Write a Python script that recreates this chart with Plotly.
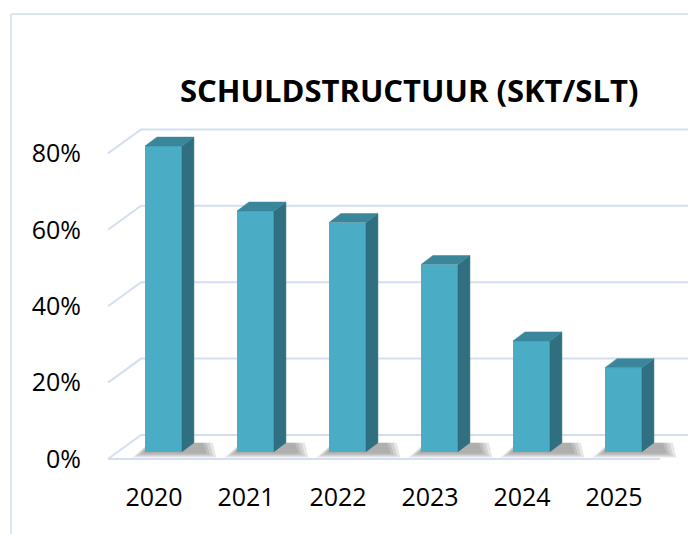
import plotly.graph_objects as go

# ---- data ----
years = ["2020", "2021", "2022", "2023", "2024", "2025"]
values = [80, 63, 60, 49, 29, 22]
tick_vals = [0, 20, 40, 60, 80]
tick_text = ["0%", "20%", "40%", "60%", "80%"]
title_text = "SCHULDSTRUCTUUR (SKT/SLT)"

# ---- 3D projection parameters (in data units) ----
WALL_DX, WALL_DY = 0.359, 6.28     # depth shift of back wall
BAR_DX, BAR_BASE = 0.103, 1.91     # front-face shift of bars
BAR_W = 0.402
BAR_DDX, BAR_DDY = 0.13, 2.36      # bar depth

FRONT = "#4BACC6"
SIDE = "#2F6F80"
TOP = "#3A879C"
GRID = "#D3DFF0"
BORDER = "#DCE6F2"

# page offset (body margin) compensation
OX, OY = 8, 8
W, H = 696 - OX, 534 - OY
L, B = 84 - OX, 64

# page pixel mapping: x_px = 108 + 92*(x+0.5); y_px = 459 - 3.82*y
def px_to_x(p):
    return (p - 108) / 92 - 0.5

def px_to_y(p):
    return (459 - p) / 3.82

fig = go.Figure()
n = len(years)
x0, x1 = -0.5, n - 0.5

shapes = []
# back wall gridlines and left diagonals
for v in tick_vals:
    shapes.append(dict(type="path", xref="x", yref="y", layer="below",
                       path=f"M {x0},{v} L {x0 + WALL_DX},{v + WALL_DY} L {x1 + WALL_DX},{v + WALL_DY}",
                       line=dict(color=GRID, width=2)))
# front floor edge
shapes.append(dict(type="line", xref="x", yref="y", layer="below", x0=x0, x1=x1, y0=0, y1=0,
                   line=dict(color=GRID, width=2)))

# soft shadows on floor
for i, v in enumerate(values):
    xl = i + BAR_DX - BAR_W / 2
    xr = i + BAR_DX + BAR_W / 2
    b = BAR_BASE
    for k in range(4):
        e = 0.035 * (3 - k)
        ey = 0.35 * (3 - k)
        shapes.append(dict(type="path", xref="x", yref="y", layer="below",
                           path=(f"M {xl - 0.03 - e},{b - 0.5 - ey} L {xr + BAR_DDX + 0.14 + e},{b - 0.5 - ey} "
                                 f"L {xr + BAR_DDX + 0.10 + e},{b + BAR_DDY} L {xl + 0.05},{b + BAR_DDY} Z"),
                           fillcolor="rgba(70,70,70,0.13)", line=dict(width=0)))

# front faces
fig.add_trace(go.Bar(x=[i + BAR_DX for i in range(n)], y=values, base=BAR_BASE, width=BAR_W,
                     marker=dict(color=FRONT, line=dict(width=0)), showlegend=False,
                     hoverinfo="skip"))

# side and top faces
for i, v in enumerate(values):
    xl = i + BAR_DX - BAR_W / 2
    xr = i + BAR_DX + BAR_W / 2
    b = BAR_BASE
    t = BAR_BASE + v
    fig.add_trace(go.Scatter(x=[xr, xr, xr + BAR_DDX, xr + BAR_DDX, xr],
                             y=[b, t, t + BAR_DDY, b + BAR_DDY, b],
                             fill="toself", fillcolor=SIDE, line=dict(width=0.5, color=SIDE),
                             mode="lines", hoverinfo="skip", showlegend=False))
    fig.add_trace(go.Scatter(x=[xl, xr, xr + BAR_DDX, xl + BAR_DDX, xl],
                             y=[t, t, t + BAR_DDY, t + BAR_DDY, t],
                             fill="toself", fillcolor=TOP, line=dict(width=0.5, color=TOP),
                             mode="lines", hoverinfo="skip", showlegend=False))

# plot area in page pixels: x from L+OX to W+OX, y from OY to H+OY-B
xr_lo = px_to_x(L + OX)
xr_hi = px_to_x(W + OX)
yr_lo = px_to_y(H + OY - B)
yr_hi = px_to_y(OY)

def paper_x(p):
    return (p - OX - L) / (W - L)

def paper_y(p):
    return (H - B - (p - OY)) / (H - B)

shapes.append(dict(type="line", xref="paper", yref="paper",
                   x0=paper_x(11), x1=paper_x(11), y0=paper_y(14), y1=paper_y(540),
                   line=dict(color=BORDER, width=2)))
shapes.append(dict(type="line", xref="paper", yref="paper",
                   x0=paper_x(11), x1=paper_x(700), y0=paper_y(14), y1=paper_y(14),
                   line=dict(color=BORDER, width=2)))

fig.update_layout(
    width=W, height=H,
    margin=dict(l=L, r=0, t=0, b=B),
    paper_bgcolor="white", plot_bgcolor="white",
    font=dict(family="Open Sans", color="black"),
    xaxis=dict(range=[xr_lo, xr_hi], tickvals=list(range(n)), ticktext=years,
               showgrid=False, zeroline=False, showline=False, ticks="",
               tickfont=dict(size=25), ticklabelstandoff=10, fixedrange=True),
    yaxis=dict(range=[yr_lo, yr_hi], tickvals=tick_vals, ticktext=tick_text,
               showgrid=False, zeroline=False, showline=False, ticks="",
               tickfont=dict(size=25), ticklabelstandoff=2, fixedrange=True),
    annotations=[dict(text=f"<b>{title_text}</b>", xref="paper", yref="paper",
                      x=paper_x(409), y=paper_y(90),
                      xanchor="center", yanchor="middle", showarrow=False,
                      font=dict(size=31, color="black", family="Open Sans"))],
    shapes=shapes,
    bargap=0,
)

fig.write_html("out.html")
